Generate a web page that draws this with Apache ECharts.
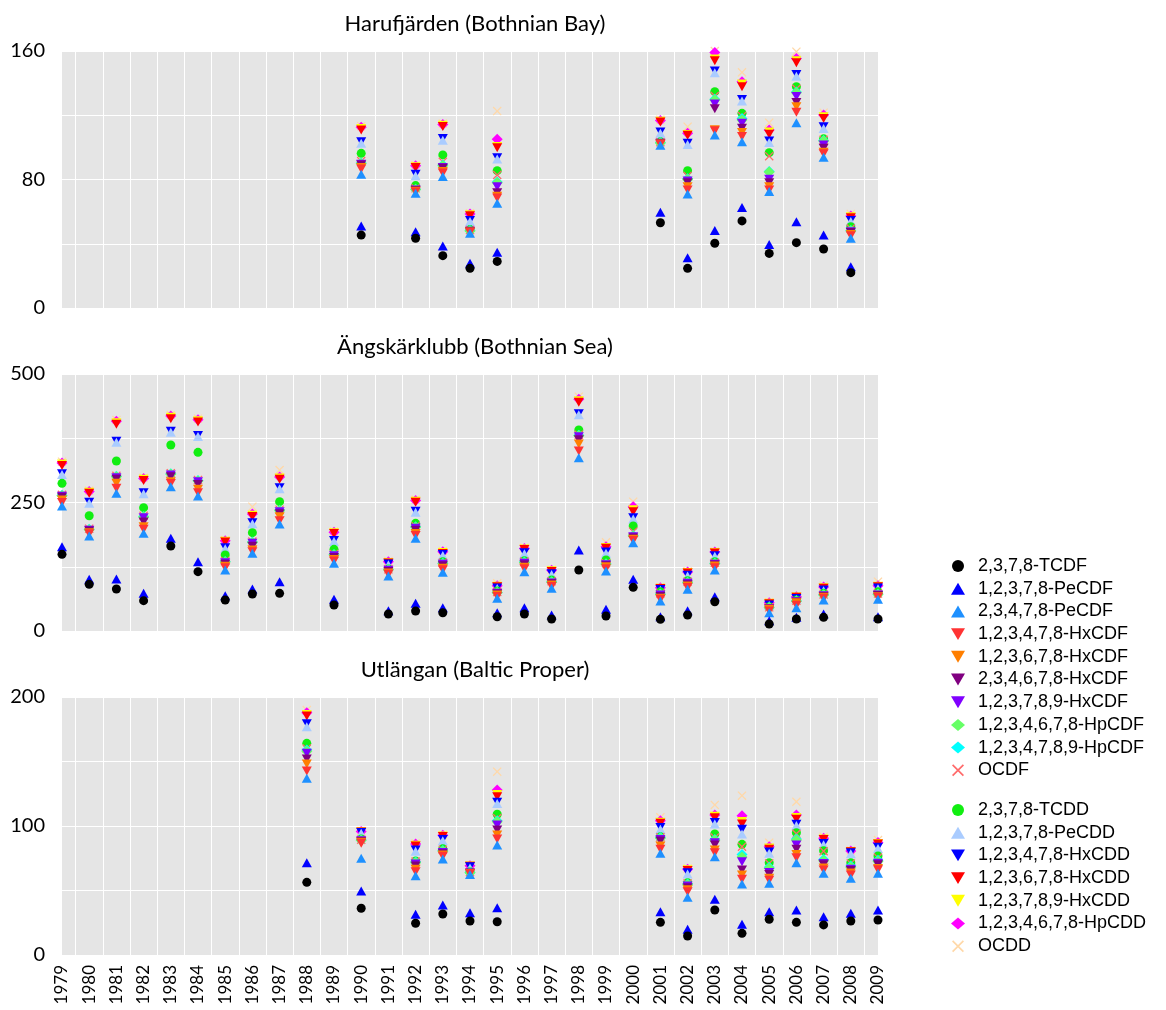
<!DOCTYPE html>
<html>
<head>
<meta charset="utf-8">
<script src="https://cdn.jsdelivr.net/npm/echarts@6/dist/echarts.min.js"></script>
<style>
  html, body { margin: 0; padding: 0; background: #fff; }
  #chart { width: 1166px; height: 1010px; }
</style>
</head>
<body>
<div id="chart"></div>
<script>
// congeners, in legend order (values in each row are cumulative, same order)
const congeners = [
  "2,3,7,8-TCDF", "1,2,3,7,8-PeCDF", "2,3,4,7,8-PeCDF", "1,2,3,4,7,8-HxCDF",
  "1,2,3,6,7,8-HxCDF", "2,3,4,6,7,8-HxCDF", "1,2,3,7,8,9-HxCDF",
  "1,2,3,4,6,7,8-HpCDF", "1,2,3,4,7,8,9-HpCDF", "OCDF",
  "2,3,7,8-TCDD", "1,2,3,7,8-PeCDD", "1,2,3,4,7,8-HxCDD", "1,2,3,6,7,8-HxCDD",
  "1,2,3,7,8,9-HxCDD", "1,2,3,4,6,7,8-HpCDD", "OCDD"
];

const panelTitles = ["Harufjärden (Bothnian Bay)", "Ängskärklubb (Bothnian Sea)", "Utlängan (Baltic Proper)"];
const yMaxes = [160, 500, 200];
const yTickSteps = [80, 250, 100];
const firstYear = 1979;
const lastYear = 2009;

// Harufjärden
const haruYears = [1990, 1992, 1993, 1994, 1995, 2001, 2002, 2003, 2004, 2005, 2006, 2007, 2008];
const haruValues = [
  [45.4, 51, 83.2, 86.5, 87.5, 89, 89.5, 90, 90.2, 91.5, 96.3, 102.5, 103.5, 110.8, 111.8, 112.5, 113.2],
  [43.4, 47.5, 71.5, 72.2, 72.7, 73.2, 73.5, 73.8, 74, 74.5, 76.2, 82.3, 83.2, 87.5, 88, 88.5, 89],
  [32.6, 38.6, 81.8, 84, 85, 87, 87.5, 88.5, 89, 91, 95.3, 104.5, 105.5, 113, 113.8, 114.3, 114.8],
  [24.7, 27.8, 46.5, 47, 47.3, 47.6, 47.8, 48, 48.2, 48.5, 48.8, 53.8, 54.5, 57.5, 58, 58.5, 59],
  [29, 34.7, 65.2, 68.5, 69.5, 71.8, 75.5, 78, 78.5, 82.8, 85.5, 92.8, 93.6, 99.8, 100.5, 105, 122.6],
  [53.1, 59.6, 101.3, 101.8, 102.1, 102.4, 102.6, 102.8, 103, 103.2, 103.5, 108.8, 109.6, 115.8, 116.3, 116.8, 117.2],
  [24.7, 31.3, 71, 73.5, 75.5, 78, 79, 80, 80.5, 82.2, 85.5, 101.8, 102.6, 107.5, 108, 108.8, 112.9],
  [40.3, 48.2, 107.7, 110.3, 111, 124, 127, 129.5, 130, 132, 134.7, 146.5, 147.5, 154, 155, 159, 160],
  [54.2, 62.5, 103.5, 106.7, 109.2, 111.9, 115, 117, 118, 119.5, 121.2, 128.8, 129.8, 137.8, 139.5, 140.9, 146.7],
  [34, 39.6, 72.5, 73.5, 75.5, 78, 80.1, 84.7, 85, 94.5, 96.7, 103, 104, 108.1, 109.5, 110.8, 115.4],
  [40.7, 53.7, 115.4, 121.8, 125.3, 128, 131.6, 134, 134.5, 136.5, 137.8, 144.3, 145.3, 152.7, 154, 155.4, 159.6],
  [36.7, 45.4, 93.8, 96, 97, 99.4, 101.5, 104, 104.3, 104.7, 105.3, 111.8, 112.8, 118, 119, 120.2, 121.6],
  [22, 25.7, 43.4, 45, 45.8, 47, 47.5, 48, 48.3, 49.5, 50.6, 53.8, 54.5, 56.2, 56.8, 57.3, 58.5]
];

// Ängskärklubb
const angsYears = [1979, 1980, 1981, 1982, 1983, 1984, 1985, 1986, 1987, 1989, 1991, 1992, 1993,
  1995, 1996, 1997, 1998, 1999, 2000, 2001, 2002, 2003, 2005, 2006, 2007, 2009];
const angsValues = [
  [149.2, 164, 243.2, 250, 255, 260, 262, 263, 264, 265, 287.3, 304.5, 306, 322, 325, 327, 329.4],
  [90.8, 100.6, 184.8, 189, 191, 194.6, 196, 197, 198, 199, 224.3, 248.5, 250.5, 268, 270, 271.5, 273],
  [81.7, 101.2, 267.9, 277.6, 287.3, 295, 298, 300, 301, 302, 330.7, 367, 369, 402, 405, 408, 410.5],
  [59, 73.3, 190, 197.8, 203, 212, 220.4, 222, 223, 224, 239.9, 266.8, 268.8, 293, 295, 296.5, 298],
  [165.4, 180.3, 280.7, 287, 290.5, 300, 303.5, 305, 306, 307, 361.9, 386.8, 388.8, 413, 416, 418.5, 420.2],
  [115.4, 134.8, 262.6, 269, 275.6, 285, 290.5, 292, 293, 294, 347.6, 378.4, 380.4, 406.5, 409, 411, 413],
  [60.3, 68.7, 118.7, 123, 126, 130, 133, 134, 135, 136, 147.9, 160, 161.8, 173, 174.5, 175.5, 176.5],
  [72, 81.7, 151.2, 154, 157.6, 165, 170.6, 172, 173, 174, 191.3, 208.5, 210.5, 223, 225, 227.5, 241.9],
  [73.3, 95.9, 208.2, 214.6, 222.4, 228, 232.1, 234, 235, 236, 251.6, 276.6, 278.6, 295, 297.5, 299.5, 313.2],
  [50.6, 61.7, 131.7, 136, 139, 143, 146.5, 148, 149, 150, 158.9, 174, 176, 189.5, 191, 192, 193.5],
  [33, 39.5, 107, 110.5, 113, 116, 118, 119, 119.5, 120, 120.6, 129, 130.5, 132.5, 133.5, 134.5, 135.5],
  [38.9, 53.9, 180.3, 186, 189.5, 196, 199.8, 202, 203, 204, 209.5, 231, 233, 250.4, 252.5, 254, 255.5],
  [35.6, 45.3, 114.2, 119, 122, 127, 130, 131, 132, 133, 134.8, 147, 149, 151, 152.5, 154, 155.5],
  [27.8, 35.6, 63.6, 67, 70, 72, 73.5, 74.5, 75, 76, 77.8, 82.5, 83.5, 86, 87, 88, 92.8],
  [33, 45.3, 115.4, 121, 124, 129, 131.7, 133, 134, 135, 136.8, 150.5, 152, 158.5, 159.5, 160.5, 162],
  [23.3, 31.1, 83, 86.5, 89.5, 92, 93.5, 95, 96, 97, 99.2, 110, 111.5, 116, 117, 118, 119],
  [118.7, 157.6, 337.2, 350.2, 363.8, 372, 378, 380, 381, 382, 391, 420.5, 422.5, 444.9, 448, 451, 455.9],
  [29.2, 42.2, 116.7, 121, 125, 127, 129, 130, 131, 132, 138.1, 151.5, 153.5, 160.9, 162.5, 164, 172.5],
  [85, 100.6, 171.8, 176, 178.4, 181, 183.5, 185, 186, 193.2, 204.3, 218, 220.5, 232.1, 236, 241.9, 251.6],
  [22.7, 27.8, 58.4, 62, 63.6, 67, 70, 71, 72, 73, 76.5, 79.5, 80.5, 82.5, 83, 84, 85],
  [31.1, 39.5, 81.1, 84.5, 87.5, 90, 92.8, 94, 95, 96, 97.9, 107, 108.5, 113, 114, 115, 116],
  [57, 66.7, 118.7, 123, 126.5, 128.5, 130, 131, 132, 133, 134.8, 145.5, 146.5, 151.8, 152.5, 153.5, 154.5],
  [13.6, 20, 35.6, 39, 42.2, 43, 44, 45, 45.5, 46, 47.3, 49.5, 50.5, 53, 54, 55, 56],
  [23.3, 26.6, 45.3, 50, 55, 56, 57, 58, 58.5, 59, 60.3, 62, 63, 65.5, 66, 66.7, 67.5],
  [26.6, 33, 60.3, 63.5, 65.5, 67, 68.5, 70, 70.5, 71, 73.3, 78.5, 80, 83, 84, 85.5, 88.2],
  [23.3, 27.8, 61.7, 65, 66.4, 69, 70, 71, 72, 73, 76.5, 82, 83.5, 86.2, 87, 88, 95.9]
];

// Utlängan
const utlYears = [1988, 1990, 1992, 1993, 1994, 1995, 2001, 2002, 2003, 2004, 2005, 2006, 2007, 2008, 2009];
const utlValues = [
  [56.3, 71.6, 137, 142.6, 148.1, 152, 156.4, 158, 159, 160, 164.1, 176.9, 179.2, 185.3, 186.5, 187.8, 189.9],
  [36.2, 49.6, 75, 86.6, 87.5, 88, 88.5, 89, 89.2, 89.4, 89.9, 94.3, 95, 95.3, 95.5, 95.7, 96],
  [24.6, 31.5, 61.5, 64.6, 66.4, 69, 70.5, 71.5, 72, 72.5, 72.9, 80.5, 81.3, 84.5, 85, 86, 86.5],
  [31.8, 38.8, 74.4, 76.5, 77.5, 78.5, 79.5, 80.5, 81, 81.5, 82.4, 88.6, 89.5, 91.8, 92.3, 92.8, 93.3],
  [26.4, 32.8, 62.5, 63, 63.2, 63.4, 63.6, 63.8, 64, 64.2, 64.5, 67.5, 68.5, 68.8, 69, 69.2, 69.5],
  [25.8, 36.7, 85.3, 89.9, 93, 96.9, 100.8, 103.3, 104, 106, 109.1, 117.5, 118.5, 122.7, 124.5, 127.9, 142.1],
  [25.3, 33.6, 78.8, 81.9, 84.5, 88.4, 89.5, 90.5, 91, 91.3, 91.7, 97.5, 98.8, 102.1, 103, 104, 106.7],
  [14.7, 19.9, 44.7, 49.1, 50.5, 52.2, 53.5, 54.5, 55, 55.5, 56, 62.8, 63.8, 65.5, 66, 66.5, 67],
  [34.9, 43.2, 76.2, 79.3, 81.4, 85.3, 87, 89, 89.5, 91, 93.8, 101.5, 102.7, 106.4, 107.5, 108.5, 116.3],
  [16.8, 23.8, 55, 58.7, 62, 65.9, 72.3, 76, 78, 84, 85.8, 93.8, 97.4, 101.6, 103.5, 108, 123.5],
  [27.7, 33.6, 55.6, 58, 59.5, 62.5, 64, 67.2, 68, 71, 71.6, 78.8, 79.8, 81.9, 83, 84, 87.1],
  [25.3, 34.9, 71.6, 75.4, 78, 81.9, 85.3, 89.1, 90, 94, 94.8, 100.3, 101.3, 105.2, 106.5, 108.5, 118.8],
  [23.3, 29.7, 63.3, 65.9, 67.5, 70, 71, 73, 74, 80.5, 80.9, 85.5, 86.5, 89.5, 90, 90.5, 91.7],
  [26.4, 32.3, 59.5, 62, 63.5, 65.5, 66.5, 68, 69, 71, 71.6, 78.5, 79.3, 80, 80.3, 80.6, 81],
  [27.1, 34.9, 63.3, 66, 67, 70, 71.1, 72.5, 73.5, 75.5, 76.7, 82.5, 83.5, 86, 86.5, 87.2, 89.1]
];

const panelYears = [haruYears, angsYears, utlYears];
const panelValues = [haruValues, angsValues, utlValues];

// marker styles
const TRI_UP = "triangle";
const TRI_DOWN = "path://M0,0L20,0L10,17Z";
const DIAMOND = "diamond";
const CROSS = "path://M0,1L1,0L5,4L9,0L10,1L6,5L10,9L9,10L5,6L1,10L0,9L4,5Z";
const colors = ["#000000", "#0000FF", "#1E90FF", "#FF3333", "#FF7F00", "#800080", "#8000FF",
  "#66FF66", "#00FFFF", "#FF6A6A", "#11EE11", "#AACCFF", "#0000FF", "#FF0000", "#FFFF00",
  "#FF00FF", "#FFD8A8"];
const symbols = ["circle", TRI_UP, TRI_UP, TRI_DOWN, TRI_DOWN, TRI_DOWN, TRI_DOWN, DIAMOND, DIAMOND,
  CROSS, "circle", TRI_UP, TRI_DOWN, TRI_DOWN, TRI_DOWN, DIAMOND, CROSS];
const sizeFor = s => s === "circle" ? 9 : s === TRI_UP ? [10, 9] : s === TRI_DOWN ? [10, 9] : s === DIAMOND ? 11 : 9;

const gridTops = [51, 374, 697];
const gridHeights = [257, 257, 258];
const axisFont = "Lato, 'Open Sans', sans-serif";

const grids = gridTops.map((t, i) => ({
  left: 62, right: 288, top: t, height: gridHeights[i],
  show: true, backgroundColor: "#E5E5E5", borderWidth: 0
}));

const xAxes = gridTops.map((t, i) => ({
  type: "value", gridIndex: i, min: firstYear, max: lastYear, interval: 1,
  axisLine: { show: false }, axisTick: { show: false },
  splitLine: { show: false },
  minorTick: { show: false, splitNumber: 2 },
  minorSplitLine: { show: true, lineStyle: { color: "#FFFFFF", width: 1 } },
  axisLabel: {
    show: i === 2, rotate: 90, margin: 10, fontSize: 17, color: "#000",
    fontFamily: axisFont, padding: [0, 0, 9, 0], formatter: v => String(v)
  }
}));

const yAxes = gridTops.map((t, i) => ({
  type: "value", gridIndex: i, min: 0, max: yMaxes[i], interval: yTickSteps[i],
  axisLine: { show: false }, axisTick: { show: false },
  splitLine: { show: true, lineStyle: { color: "#FFFFFF", width: 1 } },
  minorTick: { show: false, splitNumber: 2 },
  minorSplitLine: { show: true, lineStyle: { color: "#FFFFFF", width: 1 } },
  axisLabel: { margin: 17, fontSize: 20, color: "#000", fontFamily: axisFont }
}));

const series = [];
panelYears.forEach((yrs, p) => {
  congeners.forEach((name, c) => {
    series.push({
      name: name,
      type: "scatter",
      xAxisIndex: p, yAxisIndex: p,
      symbol: symbols[c],
      symbolSize: sizeFor(symbols[c]),
      itemStyle: { color: colors[c], opacity: 1 },
      z: 40 - c,
      clip: false,
      silent: true,
      data: yrs.map((y, k) => [y, panelValues[p][k][c]])
    });
  });
});

const titles = panelTitles.map((txt, i) => ({
  text: txt, left: 470, textAlign: "center", top: gridTops[i] - 43,
  textStyle: { fontFamily: axisFont, fontSize: 22, fontWeight: "normal", color: "#000" }
}));

const legendBase = {
  orient: "vertical", left: 946, itemWidth: 14, itemHeight: 12, itemGap: 4.7,
  selectedMode: false,
  textStyle: { fontFamily: "'Liberation Sans', Arial, sans-serif", fontSize: 18, lineHeight: 18,
    color: "#000", padding: [0, 0, 0, 8] }
};

const chart = echarts.init(document.getElementById("chart"));
chart.setOption({
  animation: false,
  backgroundColor: "#FFFFFF",
  title: titles,
  legend: [
    Object.assign({}, legendBase, { top: 552, data: congeners.slice(0, 10) }),
    Object.assign({}, legendBase, { top: 796, data: congeners.slice(10) })
  ],
  grid: grids,
  xAxis: xAxes,
  yAxis: yAxes,
  series: series
});
</script>
</body>
</html>
